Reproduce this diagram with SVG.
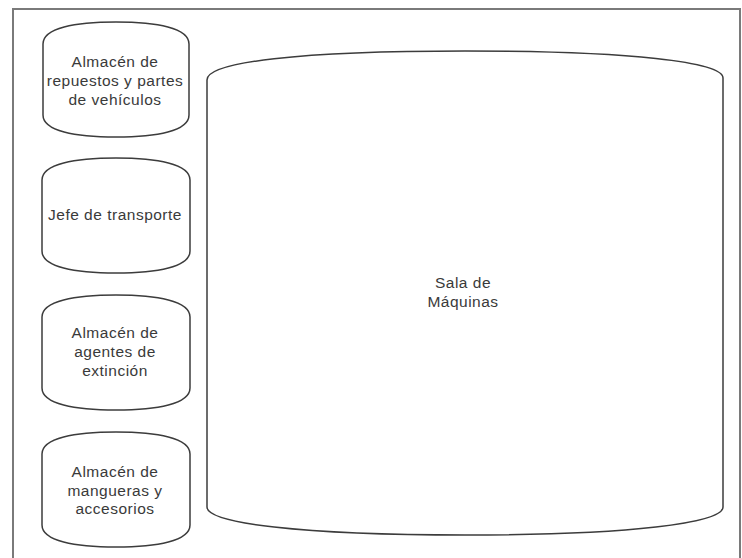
<svg xmlns="http://www.w3.org/2000/svg" width="742" height="558" viewBox="0 0 742 558">
<style>
.shape{fill:#fff;stroke:#3c3c3c;stroke-width:1.5}
.frame{fill:none;stroke:#7a7a7a;stroke-width:2}
text{font-family:"Liberation Sans",Arial,sans-serif;font-size:15.5px;letter-spacing:0.5px;fill:#3a3a3a;text-anchor:middle}
</style>
<rect width="742" height="558" fill="#fff"/>
<rect class="frame" x="13" y="9" width="727" height="570"/>
<g id="connectors"/>
<g id="n1">
<path class="shape" d="M43,44 C43,28 75,22 116,22 C157,22 189,28 189,44 V115 C189,131 157,137 116,137 C75,137 43,131 43,115 Z"/>
<text x="115" y="67">Almacén de</text>
<text x="115" y="86">repuestos y partes</text>
<text x="115" y="105">de vehículos</text>
</g>
<g id="n2">
<path class="shape" d="M42,180 C42,164 75,158 116,158 C157,158 190,164 190,180 V251 C190,267 157,273 116,273 C75,273 42,267 42,251 Z"/>
<text x="115" y="220">Jefe de transporte</text>
</g>
<g id="n3">
<path class="shape" d="M42,317 C42,301 75,295 116,295 C157,295 190,301 190,317 V388 C190,404 157,410 116,410 C75,410 42,404 42,388 Z"/>
<text x="115" y="338">Almacén de</text>
<text x="115" y="357">agentes de</text>
<text x="115" y="376">extinción</text>
</g>
<g id="n4">
<path class="shape" d="M42,454 C42,438 75,432 116,432 C157,432 190,438 190,454 V525 C190,541 157,547 116,547 C75,547 42,541 42,525 Z"/>
<text x="115" y="477">Almacén de</text>
<text x="115" y="496">mangueras y</text>
<text x="115" y="514">accesorios</text>
</g>
<g id="n5">
<path class="shape" d="M207,80 C207,62 300,51 465,51 C630,51 723,62 723,78 V507 C723,523 630,535 465,535 C300,535 207,523 207,507 Z"/>
<text x="463" y="288">Sala de</text>
<text x="463" y="307">Máquinas</text>
</g>
</svg>
